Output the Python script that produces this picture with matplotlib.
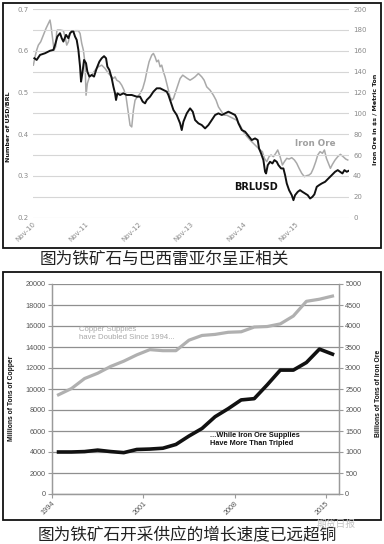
import matplotlib
matplotlib.use('Agg')
import matplotlib.pyplot as plt
from matplotlib.patches import Rectangle
import numpy as np

# ---------------- data: top chart ----------------
brl_year = [2010.859, 2010.903, 2010.967, 2011.062, 2011.157, 2011.221, 2011.253, 2011.297, 2011.348, 2011.380,
            2011.411, 2011.462, 2011.507, 2011.538, 2011.570, 2011.602, 2011.633, 2011.665, 2011.697, 2011.729,
            2011.748, 2011.773, 2011.805, 2011.843, 2011.868, 2011.907, 2011.951, 2011.995, 2012.046, 2012.097,
            2012.141, 2012.186, 2012.224, 2012.249, 2012.287, 2012.332, 2012.364, 2012.395, 2012.414, 2012.440,
            2012.491, 2012.554, 2012.618, 2012.713, 2012.808, 2012.872, 2012.922, 2012.967, 2012.999, 2013.062,
            2013.126, 2013.189, 2013.253, 2013.316, 2013.380, 2013.411, 2013.443, 2013.475, 2013.507, 2013.570,
            2013.634, 2013.665, 2013.697, 2013.761, 2013.824, 2013.875, 2013.919, 2013.983, 2014.046, 2014.110,
            2014.173, 2014.237, 2014.300, 2014.364, 2014.427, 2014.491, 2014.554, 2014.618, 2014.681, 2014.713,
            2014.745, 2014.808, 2014.872, 2014.935, 2014.998, 2015.061, 2015.112, 2015.137, 2015.176, 2015.220,
            2015.252, 2015.271, 2015.303, 2015.347, 2015.392, 2015.430, 2015.474, 2015.506, 2015.557, 2015.601,
            2015.633, 2015.665, 2015.709, 2015.760, 2015.792, 2015.823, 2015.874, 2015.918, 2015.963, 2016.014,
            2016.064, 2016.109, 2016.153, 2016.191, 2016.236, 2016.280, 2016.331, 2016.395, 2016.458, 2016.522,
            2016.585, 2016.636, 2016.680, 2016.725, 2016.763, 2016.807, 2016.839]
brl_value = [0.582, 0.578, 0.590, 0.594, 0.600, 0.602, 0.614, 0.634, 0.642, 0.630,
             0.622, 0.638, 0.630, 0.642, 0.646, 0.646, 0.634, 0.626, 0.602, 0.562,
             0.526, 0.546, 0.578, 0.570, 0.550, 0.538, 0.542, 0.538, 0.558, 0.574,
             0.582, 0.587, 0.582, 0.562, 0.554, 0.534, 0.514, 0.498, 0.482, 0.498,
             0.494, 0.498, 0.494, 0.494, 0.490, 0.490, 0.478, 0.474, 0.482, 0.490,
             0.502, 0.510, 0.510, 0.506, 0.502, 0.494, 0.482, 0.470, 0.458, 0.446,
             0.426, 0.410, 0.430, 0.450, 0.462, 0.454, 0.434, 0.426, 0.422, 0.414,
             0.422, 0.434, 0.446, 0.450, 0.446, 0.450, 0.454, 0.450, 0.446, 0.438,
             0.426, 0.410, 0.406, 0.396, 0.386, 0.390, 0.386, 0.366, 0.354, 0.338,
             0.310, 0.306, 0.326, 0.334, 0.330, 0.338, 0.334, 0.326, 0.318, 0.318,
             0.302, 0.282, 0.266, 0.254, 0.242, 0.254, 0.262, 0.266, 0.262, 0.258,
             0.254, 0.246, 0.250, 0.256, 0.274, 0.278, 0.282, 0.286, 0.294, 0.302,
             0.310, 0.314, 0.310, 0.306, 0.314, 0.310, 0.312]

ore_year = [2010.840, 2010.872, 2010.903, 2010.935, 2010.980, 2011.030, 2011.081, 2011.126, 2011.157, 2011.176,
            2011.202, 2011.234, 2011.265, 2011.284, 2011.297, 2011.348, 2011.411, 2011.443, 2011.475, 2011.507,
            2011.538, 2011.570, 2011.634, 2011.697, 2011.729, 2011.761, 2011.792, 2011.824, 2011.843, 2011.868,
            2011.907, 2011.951, 2012.015, 2012.078, 2012.141, 2012.205, 2012.249, 2012.300, 2012.364, 2012.395,
            2012.427, 2012.478, 2012.522, 2012.567, 2012.605, 2012.649, 2012.681, 2012.713, 2012.745, 2012.776,
            2012.821, 2012.872, 2012.922, 2012.967, 2012.999, 2013.043, 2013.094, 2013.126, 2013.157, 2013.189,
            2013.221, 2013.253, 2013.284, 2013.316, 2013.348, 2013.380, 2013.411, 2013.443, 2013.475, 2013.507,
            2013.538, 2013.570, 2013.602, 2013.634, 2013.684, 2013.729, 2013.773, 2013.824, 2013.875, 2013.919,
            2013.983, 2014.046, 2014.091, 2014.141, 2014.205, 2014.268, 2014.319, 2014.364, 2014.427, 2014.472,
            2014.523, 2014.586, 2014.649, 2014.713, 2014.776, 2014.840, 2014.903, 2014.966, 2015.030, 2015.093,
            2015.157, 2015.201, 2015.239, 2015.284, 2015.328, 2015.366, 2015.411, 2015.455, 2015.493, 2015.538,
            2015.582, 2015.620, 2015.665, 2015.709, 2015.760, 2015.811, 2015.855, 2015.900, 2015.950, 2016.001,
            2016.045, 2016.090, 2016.128, 2016.172, 2016.217, 2016.255, 2016.299, 2016.344, 2016.382, 2016.420,
            2016.458, 2016.496, 2016.534, 2016.585, 2016.636, 2016.687, 2016.738, 2016.788, 2016.826]
ore_value = [146.2, 154.2, 160.6, 165.4, 168.6, 175.0, 181.4, 186.2, 189.4, 183.7,
             173.4, 160.6, 163.8, 178.2, 179.8, 179.8, 179.2, 173.4, 165.4, 168.6,
             176.6, 178.2, 179.2, 179.2, 176.6, 167.0, 160.6, 147.8, 117.4, 128.6,
             135.0, 136.6, 141.4, 144.6, 146.2, 143.0, 139.8, 136.6, 133.4, 135.0,
             131.8, 130.2, 127.0, 122.2, 115.8, 99.8, 88.6, 87.0, 103.0, 112.6,
             115.8, 119.0, 123.8, 131.8, 139.8, 149.4, 155.8, 157.4, 154.2, 149.4,
             151.0, 144.6, 146.2, 139.8, 135.0, 128.6, 122.2, 115.8, 112.6, 114.2,
             119.0, 123.8, 128.6, 133.4, 136.6, 135.0, 133.4, 131.8, 133.4, 135.0,
             138.2, 135.0, 131.8, 125.4, 122.2, 117.4, 112.6, 106.2, 101.4, 98.2,
             98.2, 96.6, 95.0, 93.4, 88.6, 82.2, 78.0, 74.4, 71.2, 68.0,
             64.9, 63.3, 56.9, 53.7, 58.5, 60.1, 58.5, 61.7, 64.9, 58.5,
             50.5, 53.7, 56.9, 56.2, 57.5, 55.3, 52.1, 47.3, 42.5, 39.3,
             40.3, 40.9, 42.5, 47.3, 53.7, 60.1, 63.3, 61.7, 64.9, 56.9,
             52.1, 47.3, 51.1, 55.3, 58.5, 60.7, 58.5, 56.2, 55.3]

top_xtick_pos = [2010.833, 2011.833, 2012.833, 2013.833, 2014.833, 2015.833]
top_xtick_labels = ['Nov-10', 'Nov-11', 'Nov-12', 'Nov-13', 'Nov-14', 'Nov-15']

# ---------------- data: bottom chart ----------------
years = list(range(1994, 2016))
copper = [9450, 10050, 11000, 11500, 12150, 12650, 13250, 13750, 13650, 13650,
          14650, 15100, 15200, 15400, 15450, 15900, 15950, 16200, 16950, 18350,
          18550, 18850]
iron = [1000, 1000, 1010, 1045, 1010, 985, 1060, 1070, 1090, 1180,
        1380, 1560, 1840, 2030, 2240, 2270, 2600, 2950, 2950, 3130,
        3450, 3330]
bottom_xtick_labels = ['1994', '2001', '2008', '2015']

# ---------------- figure ----------------
W, H = 384, 544
fig = plt.figure(figsize=(W / 100, H / 100), dpi=100)
fig.patch.set_facecolor('white')

def fx(px):
    return px / W

def fy(py):
    return 1 - py / H

TOPFONT = 'DejaVu Sans'
BOTFONT = 'Liberation Sans'

# panel frames
for (x0, y0, x1, y1) in [(3, 3, 381, 248), (3, 272, 381, 520)]:
    fig.add_artist(Rectangle((fx(x0), fy(y1)), (x1 - x0) / W, (y1 - y0) / H,
                             transform=fig.transFigure, fill=False,
                             edgecolor='#111111', lw=1.3))

# ---------- top chart ----------
ax1 = fig.add_axes([fx(33), fy(217.7), 316 / W, (217.7 - 9) / H])
ax1.set_xlim(2010.833, 2016.85)
ax1.set_ylim(0.2, 0.7)
ax1r = ax1.twinx()
ax1r.set_ylim(0, 200)

ax1.set_yticks(np.arange(0.2, 0.71, 0.1))
ax1.set_yticks(np.arange(0.25, 0.7, 0.1), minor=True)
ax1.set_yticklabels(['0.2', '0.3', '0.4', '0.5', '0.6', '0.7'])
ax1.grid(axis='y', which='both', color='#d6d6d6', lw=0.8)
ax1.set_axisbelow(True)
ax1r.set_yticks(range(0, 201, 20))

for a in (ax1, ax1r):
    for s in a.spines.values():
        s.set_visible(False)
    a.tick_params(axis='both', which='both', length=0, labelsize=5, labelcolor='#8a8a8a', pad=3)
    for lab in a.get_yticklabels():
        lab.set_family(TOPFONT)

ax1.set_xticks(top_xtick_pos)
ax1.set_xticklabels(top_xtick_labels, rotation=45, ha='right', va='top',
                    rotation_mode='anchor', fontsize=5, color='#8a8a8a', family=TOPFONT)
ax1.tick_params(axis='x', pad=2)

ax1r.plot(ore_year, ore_value, color='#a9a9a9', lw=1.1)
ax1.plot(brl_year, brl_value, color='#111111', lw=1.4)
ax1.set_zorder(ax1r.get_zorder() + 1)
ax1.patch.set_visible(False)

fig.text(fx(255.7), fy(187.5), 'BRLUSD', ha='center', va='center', fontsize=7,
         fontweight='bold', color='#111111', family=TOPFONT)
fig.text(fx(315.5), fy(143), 'Iron Ore', ha='center', va='center', fontsize=6.3,
         fontweight='bold', color='#a0a0a0', family=TOPFONT)
fig.text(fx(8), fy(127), 'Number of USD/BRL', rotation=90, ha='center', va='center',
         fontsize=4.5, fontweight='bold', color='#111111', family=TOPFONT)
fig.text(fx(375), fy(119), 'Iron Ore in $s / Metric Ton', rotation=90, ha='center',
         va='center', fontsize=4.5, fontweight='bold', color='#111111', family=TOPFONT)

# ---------- bottom chart ----------
ax2 = fig.add_axes([fx(52), fy(494), 287 / W, 210 / H])
ax2.set_xlim(0, len(years))
ax2.set_ylim(0, 20000)
ax2r = ax2.twinx()
ax2r.set_ylim(0, 5000)
ax2.set_yticks(range(0, 20001, 2000))
ax2r.set_yticks(range(0, 5001, 500))
ax2.grid(axis='y', color='#8f8f8f', lw=0.9)
ax2.set_axisbelow(True)

for a in (ax2, ax2r):
    a.spines['top'].set_visible(False)
    for k in ('left', 'right', 'bottom'):
        a.spines[k].set_color('#9a9a9a')
        a.spines[k].set_linewidth(0.9)
    a.tick_params(axis='both', direction='out', length=3, width=0.8, color='#9a9a9a',
                  labelsize=5.2, labelcolor='#555555', pad=1.5)
    for lab in a.get_yticklabels():
        lab.set_family(BOTFONT)

tick_idx = [years.index(int(l)) for l in bottom_xtick_labels]
ax2.set_xticks(tick_idx)
ax2.set_xticklabels(bottom_xtick_labels, rotation=45, ha='right', va='top',
                    rotation_mode='anchor', fontsize=5.2, color='#555555', family=BOTFONT)

xc = np.arange(len(years)) + 0.5
ax2.plot(xc, copper, color='#b0b0b0', lw=2.3, solid_joinstyle='round')
ax2r.plot(xc, iron, color='#111111', lw=2.6, solid_joinstyle='round')

fig.text(fx(79), fy(326), 'Copper Supplies\nhave Doubled Since 1994...', ha='left', va='top',
         fontsize=5.6, color='#a8a8a8', family=BOTFONT, linespacing=1.2)
fig.text(fx(210), fy(432), '...While Iron Ore Supplies\nHave More Than Tripled', ha='left',
         va='top', fontsize=5.3, fontweight='bold', color='#111111', family=BOTFONT,
         linespacing=1.25)
fig.text(fx(12), fy(398), 'Millions of Tons of Copper', rotation=90, ha='center', va='center',
         fontsize=4.9, fontweight='bold', color='#111111', family=BOTFONT)
fig.text(fx(378), fy(393.5), 'Billions of Tons of Iron Ore', rotation=90, ha='center',
         va='center', fontsize=4.9, fontweight='bold', color='#111111', family=BOTFONT)

# ---------- captions ----------
fig.text(fx(164), fy(259), '图为铁矿石与巴西雷亚尔呈正相关', ha='center', va='center',
         fontsize=12, color='#222222', family=['Noto Sans CJK SC', 'DejaVu Sans'])
fig.text(fx(187.5), fy(536), '图为铁矿石开采供应的增长速度已远超铜', ha='center', va='center',
         fontsize=12, color='#222222', family=['Noto Sans CJK SC', 'DejaVu Sans'])
fig.text(fx(336), fy(523.5), '期货日报', ha='center', va='center', fontsize=7,
         color='#c4c4c4', family=['Noto Sans CJK SC', 'DejaVu Sans'])

fig.savefig('out.png', dpi=100)
